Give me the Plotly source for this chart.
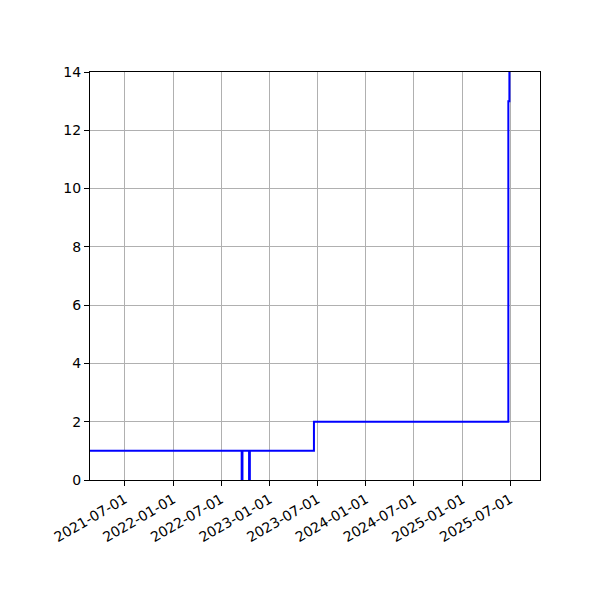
import plotly.graph_objects as go

# step series: value holds from each date until the next
dates = ['2021-02-19', '2022-09-17', '2022-09-20', '2022-10-15', '2022-10-18',
         '2023-06-18', '2025-06-24', '2025-06-28', '2025-08-06']
values = [1, 0, 1, 0, 1, 2, 13, 20, 20]

tick_dates = ['2021-07-01', '2022-01-01', '2022-07-01', '2023-01-01', '2023-07-01',
              '2024-01-01', '2024-07-01', '2025-01-01', '2025-07-01']
y_ticks = [0, 2, 4, 6, 8, 10, 12, 14]

fig = go.Figure(go.Scatter(x=dates, y=values, mode='lines', line_shape='hv',
                           line=dict(color='blue', width=2)))

axis_style = dict(showline=True, linecolor='black', linewidth=1, mirror=True,
                  showgrid=True, gridcolor='#b0b0b0', gridwidth=1,
                  ticks='outside', ticklen=5, tickcolor='black', zeroline=False,
                  tickfont=dict(family='DejaVu Sans', size=14, color='black'))

# page body has an 8px margin, so the margins are shifted to compensate
fig.update_layout(width=600, height=600, plot_bgcolor='white', paper_bgcolor='white',
                  showlegend=False, margin=dict(l=82, r=68, t=64, b=128, autoexpand=False),
                  xaxis=dict(range=['2021-02-19', '2025-10-22'], tickvals=tick_dates,
                             ticktext=tick_dates, tickangle=-30, automargin=False, **axis_style),
                  yaxis=dict(range=[0, 14], tickvals=y_ticks, automargin=False, **axis_style))

fig.write_html("out.html")
